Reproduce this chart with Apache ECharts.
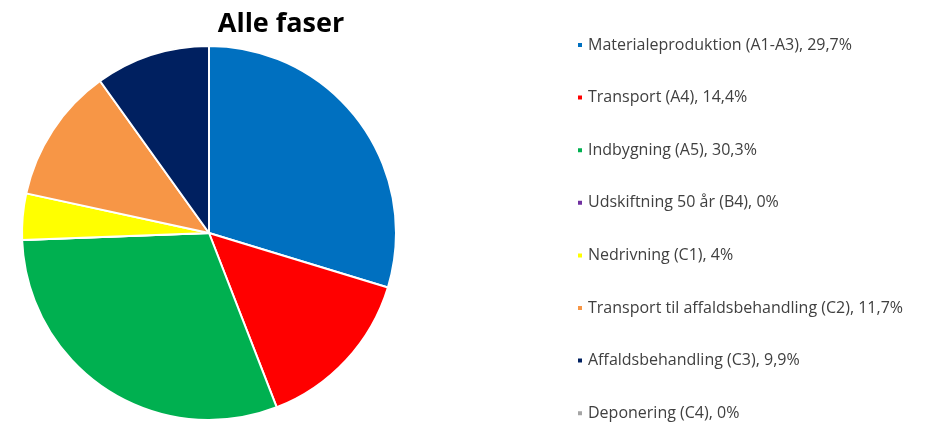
<!DOCTYPE html>
<html>
<head>
<meta charset="utf-8">
<script src="https://cdn.jsdelivr.net/npm/echarts@6/dist/echarts.min.js"></script>
<style>html,body{margin:0;padding:0;background:#fff}#c{width:930px;height:424px}</style>
</head>
<body>
<div id="c"></div>
<script>
const categories = ["Materialeproduktion (A1-A3)", "Transport (A4)", "Indbygning (A5)", "Udskiftning 50 år (B4)", "Nedrivning (C1)", "Transport til affaldsbehandling (C2)", "Affaldsbehandling (C3)", "Deponering (C4)"];
const values = [29.7, 14.4, 30.3, 0, 4, 11.7, 9.9, 0];
const colors = ["#0070C0", "#FF0000", "#00B050", "#7030A0", "#FFFF00", "#F79646", "#002060", "#A5A5A5"];
const title = "Alle faser";

const chart = echarts.init(document.getElementById('c'), null, {renderer: 'canvas'});
const valueByName = {};
categories.forEach((c, i) => valueByName[c] = values[i]);
chart.setOption({
  animation: false,
  title: {
    text: title, left: 276, top: 6, textAlign: 'center',
    textStyle: {fontFamily: 'Open Sans', fontWeight: 'bold', fontSize: 27, color: '#000'}
  },
  legend: {
    orient: 'vertical', left: 571, top: 31, height: 420,
    itemWidth: 6, itemHeight: 6, itemGap: 34.6, icon: 'rect',
    textStyle: {fontFamily: 'Open Sans', fontSize: 16, color: '#404040', lineHeight: 18},
    formatter: n => n + ', ' + String(valueByName[n]).replace('.', ',') + '%',
    data: categories
  },
  series: [{
    type: 'pie', center: [209, 233], radius: 187, startAngle: 90, clockwise: true,
    label: {show: false}, labelLine: {show: false},
    itemStyle: {borderColor: '#fff', borderWidth: 2},
    emphasis: {disabled: true},
    data: categories.map((c, i) => ({name: c, value: values[i], itemStyle: {color: colors[i]}}))
  }]
});
</script>
</body>
</html>
